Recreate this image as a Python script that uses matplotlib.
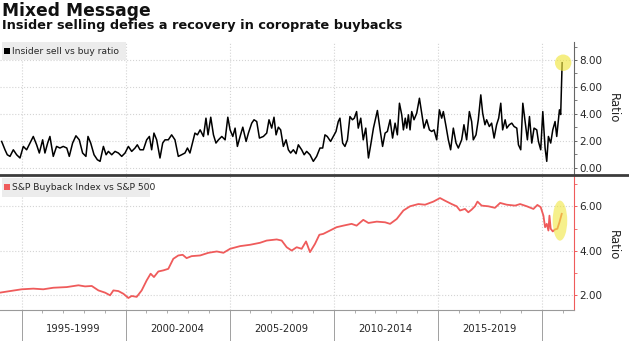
import numpy as np
import matplotlib.pyplot as plt
from matplotlib.patches import Rectangle, Ellipse
from matplotlib.lines import Line2D
from matplotlib.transforms import blended_transform_factory

# Insider sell vs buy ratio (decimal year, ratio)
insider_years = [
    1994.04, 1994.20, 1994.31, 1994.44, 1994.60, 1994.76, 1994.92, 1995.08, 1995.24, 1995.40,
    1995.56, 1995.72, 1995.85, 1996.01, 1996.12, 1996.25, 1996.36, 1996.52, 1996.68, 1996.84,
    1997.00, 1997.17, 1997.29, 1997.45, 1997.61, 1997.77, 1997.93, 1998.09, 1998.19, 1998.32,
    1998.48, 1998.64, 1998.77, 1998.93, 1999.06, 1999.17, 1999.33, 1999.49, 1999.65, 1999.81,
    1999.97, 2000.13, 2000.29, 2000.45, 2000.56, 2000.69, 2000.85, 2001.01, 2001.14, 2001.25,
    2001.36, 2001.49, 2001.65, 2001.78, 2001.89, 2002.05, 2002.21, 2002.37, 2002.53, 2002.69,
    2002.85, 2002.97, 2003.09, 2003.25, 2003.33, 2003.45, 2003.58, 2003.74, 2003.86, 2003.96,
    2004.09, 2004.22, 2004.34, 2004.46, 2004.62, 2004.78, 2004.91, 2005.02, 2005.15, 2005.26,
    2005.37, 2005.50, 2005.63, 2005.79, 2005.90, 2006.06, 2006.17, 2006.30, 2006.43, 2006.62,
    2006.78, 2006.89, 2007.02, 2007.13, 2007.23, 2007.34, 2007.45, 2007.58, 2007.71, 2007.82,
    2007.93, 2008.06, 2008.19, 2008.30, 2008.46, 2008.58, 2008.70, 2008.86, 2009.02, 2009.18,
    2009.34, 2009.47, 2009.58, 2009.69, 2009.85, 2009.98, 2010.11, 2010.22, 2010.30, 2010.43,
    2010.54, 2010.66, 2010.78, 2010.90, 2010.99, 2011.10, 2011.18, 2011.30, 2011.42, 2011.54,
    2011.67, 2011.78, 2011.91, 2012.10, 2012.23, 2012.35, 2012.47, 2012.58, 2012.71, 2012.83,
    2012.95, 2013.06, 2013.16, 2013.27, 2013.35, 2013.44, 2013.51, 2013.59, 2013.67, 2013.75,
    2013.86, 2013.99, 2014.12, 2014.23, 2014.34, 2014.47, 2014.60, 2014.71, 2014.82, 2014.95,
    2015.08, 2015.19, 2015.27, 2015.40, 2015.51, 2015.62, 2015.75, 2015.88, 2015.99, 2016.15,
    2016.26, 2016.39, 2016.52, 2016.63, 2016.71, 2016.84, 2016.95, 2017.07, 2017.16, 2017.27,
    2017.35, 2017.48, 2017.59, 2017.71, 2017.83, 2017.93, 2018.03, 2018.12, 2018.24, 2018.32,
    2018.44, 2018.56, 2018.67, 2018.80, 2018.88, 2018.99, 2019.09, 2019.20, 2019.31, 2019.41,
    2019.52, 2019.63, 2019.76, 2019.84, 2019.95, 2020.05, 2020.16, 2020.24, 2020.32, 2020.43,
    2020.53, 2020.64, 2020.72, 2020.85, 2020.91, 2020.98,
]
insider_ratio = [
    1.95, 1.33, 0.96, 0.84, 1.33, 0.96, 0.72, 1.58, 1.33, 1.83,
    2.32, 1.70, 1.09, 2.07, 1.09, 1.83, 2.32, 0.84, 1.58, 1.46,
    1.58, 1.46, 0.84, 1.83, 2.37, 2.07, 1.09, 0.84, 2.32, 1.83,
    0.96, 0.59, 0.47, 1.58, 0.96, 1.21, 0.96, 1.21, 1.09, 0.84,
    1.09, 1.58, 1.21, 1.46, 1.70, 1.33, 1.33, 2.07, 2.32, 1.33,
    2.57, 2.07, 0.72, 1.83, 2.07, 2.07, 2.44, 2.07, 0.84, 0.96,
    1.09, 1.46, 1.09, 2.07, 2.57, 2.44, 2.81, 2.32, 3.68, 2.44,
    3.75, 2.44, 1.83, 2.07, 2.32, 2.07, 3.75, 2.81, 2.32, 2.94,
    1.58, 2.32, 3.01, 1.95, 2.57, 3.31, 3.56, 3.43, 2.20, 2.32,
    2.57, 3.56, 2.94, 3.75, 2.44, 3.01, 2.81, 1.58, 2.07, 1.33,
    1.09, 1.33, 1.04, 1.70, 1.33, 0.96, 1.21, 0.96, 0.47, 0.84,
    1.46, 1.46, 2.44, 2.32, 1.95, 2.32, 2.69, 3.43, 3.68, 1.83,
    1.58, 2.07, 3.80, 3.56, 3.68, 4.17, 2.94, 3.68, 2.07, 2.94,
    0.72, 1.70, 2.94, 4.25, 2.81, 1.58, 2.57, 2.69, 3.56, 2.20,
    3.31, 2.44, 4.79, 3.93, 2.81, 3.68, 2.94, 3.93, 2.81, 4.17,
    3.56, 4.05, 5.16, 4.05, 2.94, 3.56, 2.81, 2.69, 2.81, 2.07,
    4.30, 3.68, 4.17, 3.06, 2.07, 1.33, 2.94, 1.83, 1.46, 2.07,
    3.19, 2.07, 4.17, 3.43, 2.07, 2.44, 3.56, 5.41, 4.05, 3.19,
    3.56, 3.06, 3.31, 2.20, 3.19, 3.68, 4.79, 2.81, 3.56, 2.94,
    3.19, 3.31, 3.06, 2.94, 1.70, 1.33, 4.79, 3.43, 2.07, 3.80,
    1.83, 2.94, 2.81, 1.95, 1.33, 4.17, 1.46, 0.47, 2.32, 1.83,
    2.81, 3.43, 2.32, 4.30, 3.95, 7.80,
]

# S&P Buyback Index vs S&P 500 (decimal year, ratio)
buyback_years = [
    1993.96, 1994.44, 1995.00, 1995.56, 1996.04, 1996.52, 1997.17, 1997.73, 1998.05, 1998.37,
    1998.69, 1999.01, 1999.25, 1999.41, 1999.65, 1999.89, 2000.13, 2000.29, 2000.53, 2000.77,
    2001.01, 2001.20, 2001.36, 2001.57, 2001.81, 2002.05, 2002.29, 2002.53, 2002.74, 2002.93,
    2003.17, 2003.58, 2003.98, 2004.38, 2004.70, 2005.02, 2005.50, 2005.98, 2006.46, 2006.78,
    2007.26, 2007.50, 2007.74, 2007.98, 2008.22, 2008.46, 2008.67, 2008.86, 2009.10, 2009.31,
    2009.50, 2009.82, 2010.14, 2010.46, 2010.86, 2011.10, 2011.42, 2011.67, 2012.07, 2012.47,
    2012.71, 2013.03, 2013.35, 2013.67, 2014.07, 2014.39, 2014.79, 2015.11, 2015.35, 2015.67,
    2015.91, 2016.07, 2016.31, 2016.47, 2016.63, 2016.79, 2016.91, 2017.11, 2017.43, 2017.75,
    2018.00, 2018.32, 2018.72, 2018.96, 2019.28, 2019.60, 2019.79, 2019.95, 2020.08, 2020.16,
    2020.24, 2020.32, 2020.37, 2020.43, 2020.53, 2020.64, 2020.75, 2020.85, 2020.96,
]
buyback_ratio = [
    2.12, 2.19, 2.27, 2.30, 2.27, 2.34, 2.37, 2.45, 2.40, 2.42,
    2.22, 2.12, 2.00, 2.22, 2.19, 2.07, 1.88, 1.97, 1.93, 2.22,
    2.67, 2.97, 2.82, 3.07, 3.12, 3.19, 3.64, 3.79, 3.82, 3.67,
    3.76, 3.79, 3.91, 3.97, 3.91, 4.09, 4.21, 4.27, 4.36, 4.46,
    4.51, 4.46, 4.16, 4.01, 4.16, 4.09, 4.42, 3.94, 4.31, 4.72,
    4.76, 4.91, 5.06, 5.13, 5.21, 5.13, 5.39, 5.25, 5.31, 5.28,
    5.21, 5.43, 5.81, 6.00, 6.10, 6.07, 6.21, 6.37, 6.25, 6.10,
    6.00, 5.81, 5.88, 5.73, 5.85, 6.00, 6.21, 6.03, 6.00, 5.93,
    6.15, 6.07, 6.03, 6.10, 6.00, 5.88, 6.06, 5.96, 5.58, 5.06,
    5.21, 4.91, 5.58, 4.99, 4.87, 4.96, 4.99, 5.28, 5.66,
]

period_labels = ["1995-1999", "2000-2004", "2005-2009", "2010-2014", "2015-2019"]
period_starts = [1995, 2000, 2005, 2010, 2015]

W, H = 629, 341
RED = "#ef5b5b"
GRID = "#d4d4d4"
TXT = "#262626"
XLIM = (1993.96, 2021.55)

fig = plt.figure(figsize=(W / 100, H / 100), dpi=100)
fig.patch.set_facecolor("white")


def px_axes(left, top, right, bottom):
    return fig.add_axes([left / W, 1 - bottom / H, (right - left) / W, (bottom - top) / H])


ax1 = px_axes(0, 42, 574, 174)
ax2 = px_axes(0, 176, 574, 310)

for ax in (ax1, ax2):
    ax.set_xlim(*XLIM)
    ax.yaxis.tick_right()
    ax.spines["top"].set_visible(False)
    ax.spines["left"].set_visible(False)
    ax.set_xticks(range(1995, 2021, 5))
    ax.set_xticks(range(1995, 2022), minor=True)
    ax.grid(True, which="major", color=GRID, linestyle=":", linewidth=0.8)
    ax.yaxis.set_major_formatter(plt.FormatStrFormatter("%.2f"))
    ax.tick_params(axis="y", which="both", direction="out", labelsize=7.5,
                   labelcolor=TXT, pad=1.5)
    ax.tick_params(axis="y", which="major", length=2.5, width=0.7)
    ax.tick_params(axis="y", which="minor", length=1.8, width=0.6)

# top panel
ax1.plot(insider_years, insider_ratio, color="black", linewidth=1.1, zorder=3)
ax1.set_ylim(-0.47, 9.34)
ax1.set_yticks([0, 2, 4, 6, 8])
ax1.set_yticks([1, 3, 5, 7, 9], minor=True)
ax1.spines["bottom"].set_visible(False)
ax1.spines["right"].set_color("#666666")
ax1.spines["right"].set_linewidth(0.8)
ax1.tick_params(axis="y", which="both", color="#666666")
ax1.tick_params(axis="x", which="both", length=0, labelbottom=False)
ax1.scatter([insider_years[-1] + 0.05], [insider_ratio[-1]], s=140, color="#f0e640",
            alpha=0.65, edgecolors="none", zorder=4)

# bottom panel
ax2.plot(buyback_years, buyback_ratio, color=RED, linewidth=1.3, zorder=3)
ax2.set_ylim(1.34, 7.36)
ax2.set_yticks([2, 4, 6])
ax2.set_yticks([3, 5, 7], minor=True)
ax2.spines["right"].set_color(RED)
ax2.spines["right"].set_linewidth(0.8)
ax2.spines["bottom"].set_color("#9a9a9a")
ax2.spines["bottom"].set_linewidth(0.8)
ax2.tick_params(axis="y", which="both", color=RED)
ax2.tick_params(axis="x", which="major", length=22, width=0.7, color="#a0a0a0",
                direction="out", labelbottom=False)
ax2.tick_params(axis="x", which="minor", length=2.2, width=0.6, color="#a0a0a0",
                direction="out")
tail = [(x, y) for x, y in zip(buyback_years, buyback_ratio) if x >= 2020.5]
tx = [p[0] for p in tail]
ty = [p[1] for p in tail]
ax2.add_patch(Ellipse(((min(tx) + max(tx)) / 2 + 0.13, (min(ty) + max(ty)) / 2 + 0.09),
                      0.7, 1.8, facecolor="#f0e640", alpha=0.6, edgecolor="none", zorder=4))

trans = blended_transform_factory(ax2.transData, ax2.transAxes)
for lab, start in zip(period_labels, period_starts):
    ax2.text(start + 2.5, -0.142, lab, transform=trans, ha="center", va="center",
             fontsize=7.2, color=TXT)


# legend boxes
def add_legend(ax, ax_top, ax_h, top, bottom, right, color, label):
    y0 = 1 - (bottom - ax_top) / ax_h
    y1 = 1 - (top - ax_top) / ax_h
    ax.add_patch(Rectangle((2 / 574, y0), (right - 2) / 574, y1 - y0,
                           transform=ax.transAxes, facecolor="#ececec",
                           edgecolor="none", zorder=5))
    ax.add_patch(Rectangle((4 / 574, (y0 + y1) / 2 - 3 / ax_h), 6 / 574, 6 / ax_h,
                           transform=ax.transAxes, facecolor=color,
                           edgecolor="none", zorder=6))
    ax.text(12 / 574, (y0 + y1) / 2, label, transform=ax.transAxes, ha="left",
            va="center", fontsize=6.6, color=TXT, zorder=6)


add_legend(ax1, 42, 132, 42, 60, 126, "black", "Insider sell vs buy ratio")
add_legend(ax2, 176, 134, 178, 197, 150, RED, "S&P Buyback Index vs S&P 500")

# separator between panels
fig.add_artist(Line2D([0, 1], [1 - 175 / H, 1 - 175 / H], transform=fig.transFigure,
                      color="#3c3c3c", linewidth=2.0))

# axis titles
fig.text(613 / W, 1 - 108 / H, "Ratio", rotation=270, ha="center", va="center",
         fontsize=8.5, color=TXT)
fig.text(613 / W, 1 - 245 / H, "Ratio", rotation=270, ha="center", va="center",
         fontsize=8.5, color=TXT)

fig.text(2 / W, 1 - 1.5 / H, "Mixed Message", fontsize=12.3, fontweight="bold",
         ha="left", va="top", color="#111111")
fig.text(2 / W, 1 - 19.5 / H, "Insider selling defies a recovery in coroprate buybacks",
         fontsize=9.3, fontweight="bold", ha="left", va="top", color="#111111")

fig.savefig("out.png", dpi=100, facecolor="white")
